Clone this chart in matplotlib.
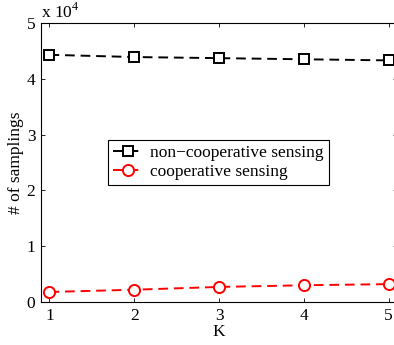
import matplotlib
matplotlib.use("Agg")
import matplotlib.pyplot as plt

K = [1, 2, 3, 4, 5]
non_coop = [4.43, 4.39, 4.37, 4.35, 4.33]   # x 10^4
coop = [0.18, 0.22, 0.27, 0.30, 0.32]        # x 10^4
yticks = [0, 1, 2, 3, 4, 5]

plt.rcParams['font.family'] = ['Liberation Serif', 'DejaVu Serif']
plt.rcParams['font.size'] = 12.5
plt.rcParams['mathtext.fontset'] = 'custom'
plt.rcParams['mathtext.rm'] = 'Liberation Serif'

fig = plt.figure(figsize=(3.94, 3.45), dpi=100)
ax = fig.add_axes([41/394, 43/345, 356/394, 279/345])

ax.plot(K, non_coop, color='black', linestyle=(0, (5, 3)), linewidth=1.4,
        marker='s', markersize=6.5, markerfacecolor='white', markeredgewidth=1.4,
        label='non\u2212cooperative sensing')
ax.plot(K, coop, color='red', linestyle=(0, (5, 3)), linewidth=1.4,
        marker='o', markersize=8, markerfacecolor='white', markeredgewidth=1.4,
        label='cooperative sensing')

ax.set_xlim(0.9, 5.1)
ax.set_ylim(0, 5)
ax.set_xticks(K)
ax.set_yticks(yticks)
ax.tick_params(direction='in', length=3, top=True, right=True, width=0.6, pad=4)
for s in ax.spines.values():
    s.set_linewidth(0.8)

ax.set_xlabel('K', labelpad=0)
ax.set_ylabel('# of samplings', labelpad=2)
ax.text(0.0, 1.005, 'x 10$^{\\mathrm{4}}$', transform=ax.transAxes, ha='left', va='bottom')

leg = ax.legend(loc='upper left', bbox_to_anchor=((108-41)/356, (302-140)/279),
                frameon=True, fancybox=False, edgecolor='black', framealpha=1,
                handlelength=1.75, borderpad=0.3, labelspacing=0.15, handletextpad=0.35,
                borderaxespad=0)
leg.get_frame().set_linewidth(0.8)

fig.savefig('out.png', dpi=100)
